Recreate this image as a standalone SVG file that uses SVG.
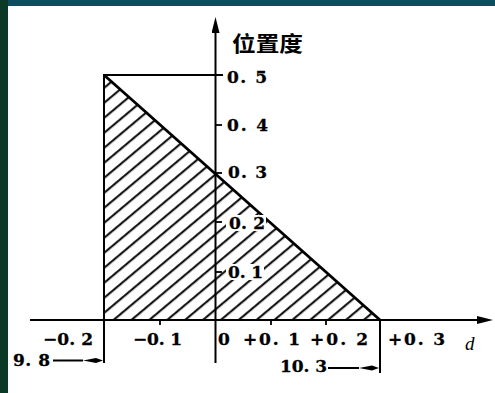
<svg xmlns="http://www.w3.org/2000/svg" width="495" height="393" viewBox="0 0 495 393">
  <style>
    .ax { stroke:#000; stroke-width:2; fill:none; }
    .ol { stroke:#000; stroke-width:2.8; fill:none; stroke-linejoin:miter; }
    .tk { stroke:#000; stroke-width:1.8; }
    .num { font-family:"DejaVu Serif","Liberation Serif",serif; font-size:17px; fill:#000; font-weight:bold; stroke:#000; stroke-width:0.3; }
    .bg { fill:#fff; }
  </style>
  <defs>
    <marker id="axArrow" markerUnits="userSpaceOnUse" markerWidth="16" markerHeight="8" viewBox="0 0 16 8" refX="0" refY="4" orient="auto">
      <path d="M0,0 L16,4 L0,8 z" fill="#000"/>
    </marker>
    <marker id="dimArrow" markerUnits="userSpaceOnUse" markerWidth="20" markerHeight="6" viewBox="0 0 20 6" refX="0" refY="3" orient="auto">
      <path d="M0,3 L13,0.6 L20,3 L13,5.4 z" fill="#000"/>
    </marker>
    <pattern id="hatch" patternUnits="userSpaceOnUse" width="30" height="11.49" patternTransform="rotate(-40)">
      <line x1="0" y1="7.9" x2="30" y2="7.9" stroke="#000" stroke-width="2"/>
    </pattern>
    <clipPath id="triClip">
      <polygon points="104,75 104,320 380,320"/>
    </clipPath>
  </defs>

  <rect width="495" height="393" fill="#fff"/>
  <g id="frame">
    <rect x="0" y="0" width="495" height="6" fill="#114b5f"/>
    <rect x="0" y="0" width="8" height="393" fill="#0a3a25"/>
  </g>

  <g id="region">
    <rect x="104" y="75" width="276" height="245" fill="url(#hatch)" clip-path="url(#triClip)"/>
    <path class="ol" d="M104,75 L380,320"/>
    <path class="ax" d="M104,75 H223"/>
    <path class="ax" stroke-width="2.6" d="M104,74 V363"/>
    <path class="ax" d="M380,320 V373"/>
  </g>

  <g id="connectors">
    <line class="ax" x1="215.5" y1="363" x2="215.5" y2="33" marker-end="url(#axArrow)"/>
    <line class="ax" x1="30" y1="320" x2="477" y2="320" marker-end="url(#axArrow)"/>
    <line class="tk" x1="215" y1="125" x2="222" y2="125"/>
    <line class="tk" x1="215" y1="173" x2="222" y2="173"/>
    <line class="tk" x1="215" y1="222" x2="222" y2="222"/>
    <line class="tk" x1="215" y1="272" x2="222" y2="272"/>
    <line class="tk" x1="160" y1="320" x2="160" y2="325"/>
    <line class="tk" x1="271" y1="320" x2="271" y2="325"/>
    <line class="tk" x1="326" y1="320" x2="326" y2="325"/>
    <line class="ax" stroke-width="1.6" x1="53" y1="360.5" x2="83" y2="360.5" marker-end="url(#dimArrow)"/>
    <line class="ax" stroke-width="1.6" x1="328" y1="368" x2="359" y2="368" marker-end="url(#dimArrow)"/>
  </g>

  <g id="y-labels">
    <text x="232" y="51" font-family="'Noto Sans CJK SC','Noto Sans CJK JP',sans-serif" font-size="21" font-weight="bold" textLength="71" lengthAdjust="spacingAndGlyphs">位置度</text>
    <text class="num" x="227" y="83" textLength="40">0. 5</text>
    <text class="num" x="227" y="131" textLength="41">0. 4</text>
    <text class="num" x="228" y="178" textLength="39">0. 3</text>
    <rect class="bg" x="226" y="215" width="40" height="16"/>
    <text class="num" x="229" y="229" textLength="36">0. 2</text>
    <rect class="bg" x="226" y="264" width="38" height="16"/>
    <text class="num" x="228" y="278" textLength="35">0. 1</text>
  </g>

  <g id="x-labels">
    <text class="num" x="43" y="345" textLength="50">−0. 2</text>
    <text class="num" x="133" y="345" textLength="49">−0. 1</text>
    <text class="num" x="218" y="345">0</text>
    <text class="num" x="243" y="345" textLength="57">+0. 1</text>
    <text class="num" x="310" y="345" textLength="58">+0. 2</text>
    <text class="num" x="388" y="345" textLength="57">+0. 3</text>
    <text x="465" y="350" font-family="'Liberation Serif',serif" font-size="19" font-style="italic">d</text>
    <text class="num" x="13" y="366" textLength="37">9. 8</text>
    <text class="num" x="280" y="372" textLength="47">10. 3</text>
  </g>
</svg>
